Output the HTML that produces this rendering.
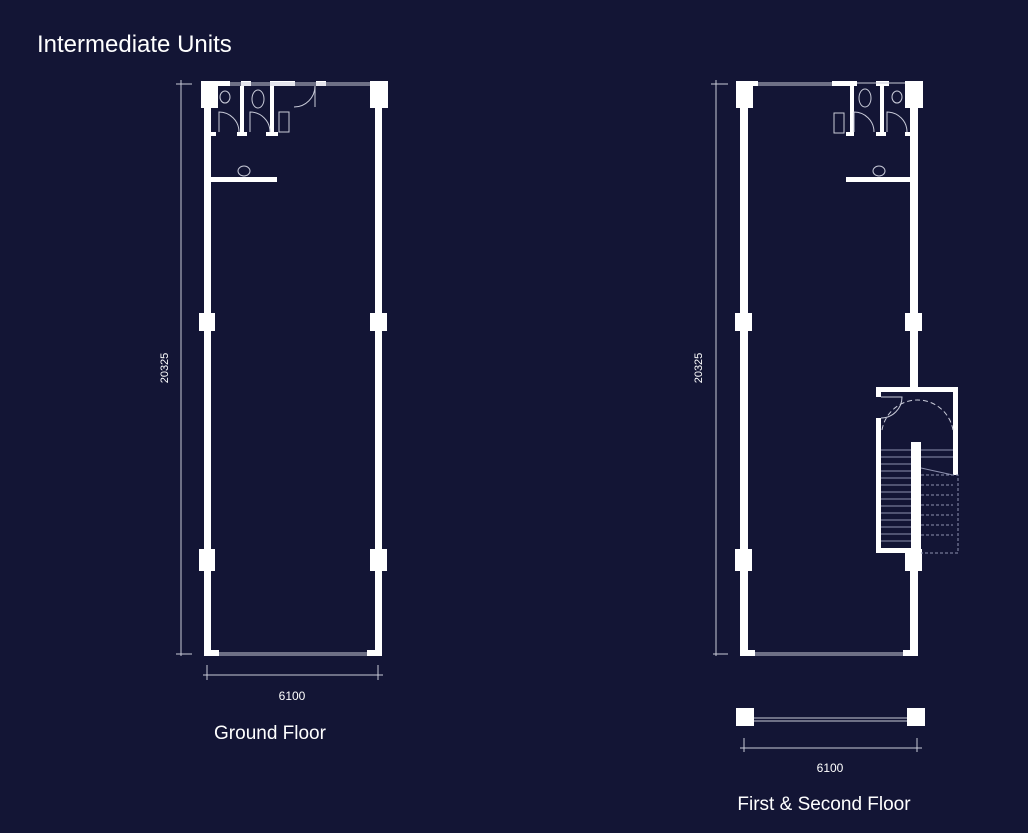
<!DOCTYPE html>
<html><head><meta charset="utf-8"><style>
html,body{margin:0;padding:0;background:#131535;}
svg{display:block}
text{font-family:"Liberation Sans",sans-serif;fill:#fff}
</style></head><body>
<svg width="1028" height="833" viewBox="0 0 1028 833" xmlns="http://www.w3.org/2000/svg">
<rect width="1028" height="833" fill="#131535"/>
<text x="37" y="52" font-size="24">Intermediate Units</text>

<!-- LEFT PLAN -->
<g fill="#fff">
<rect x="204" y="81" width="7" height="575"/>
<rect x="375" y="81" width="7" height="575"/>
<rect x="201" y="81" width="17" height="27"/>
<rect x="370" y="81" width="18" height="27"/>
<rect x="218" y="81" width="12" height="5"/>
<rect x="241" y="81" width="10" height="5"/>
<rect x="270" y="81" width="25" height="5"/>
<rect x="316" y="81" width="10" height="5"/>
<rect x="199" y="313" width="16" height="18"/>
<rect x="370" y="313" width="17" height="18"/>
<rect x="199" y="549" width="16" height="22"/>
<rect x="370" y="549" width="17" height="22"/>
<rect x="204" y="650" width="15" height="6"/>
<rect x="367" y="650" width="15" height="6"/>
<rect x="211" y="177" width="66" height="5"/>
<rect x="240" y="86" width="4" height="50"/>
<rect x="270" y="86" width="4" height="50"/>
<rect x="211" y="132" width="5" height="4"/>
<rect x="237" y="132" width="10" height="4"/>
<rect x="266" y="132" width="12" height="4"/>
</g>
<g stroke="#c8cad8" fill="none" stroke-width="1">
<line x1="230" y1="83" x2="370" y2="83"/><line x1="230" y1="85" x2="370" y2="85"/>
<line x1="219" y1="653" x2="367" y2="653"/><line x1="219" y1="655" x2="367" y2="655"/>
<ellipse cx="225" cy="97" rx="5" ry="6"/><ellipse cx="258" cy="99" rx="6" ry="9"/>
<path d="M219 132 V112 A20 20 0 0 1 239 132"/><path d="M250 132 V112 A20 20 0 0 1 270 132"/>
<path d="M315 107 V86 A21 21 0 0 1 294 107"/>
<rect x="279" y="112" width="10" height="20"/>
<ellipse cx="244" cy="171" rx="6" ry="5"/>
<line x1="181" y1="80" x2="181" y2="656"/>
<line x1="176" y1="84" x2="192" y2="84"/><line x1="176" y1="654" x2="192" y2="654"/>
<line x1="203" y1="675" x2="383" y2="675"/>
<line x1="207" y1="665" x2="207" y2="680"/><line x1="378" y1="665" x2="378" y2="680"/>
</g>
<text x="168" y="368" font-size="11" text-anchor="middle" transform="rotate(-90 168 368)">20325</text>
<text x="292" y="700" font-size="12" text-anchor="middle">6100</text>
<text x="270" y="739" font-size="19" text-anchor="middle">Ground Floor</text>

<!-- RIGHT PLAN -->
<g fill="#fff">
<rect x="740" y="81" width="8" height="575"/>
<rect x="910" y="81" width="8" height="306"/>
<rect x="910" y="553" width="8" height="103"/>
<rect x="736" y="81" width="17" height="27"/>
<rect x="905" y="81" width="18" height="27"/>
<rect x="753" y="81" width="5" height="5"/>
<rect x="832" y="81" width="25" height="5"/>
<rect x="876" y="81" width="13" height="5"/>
<rect x="850" y="86" width="4" height="50"/>
<rect x="880" y="86" width="4" height="50"/>
<rect x="846" y="132" width="8" height="4"/>
<rect x="876" y="132" width="10" height="4"/>
<rect x="905" y="132" width="5" height="4"/>
<rect x="735" y="313" width="17" height="18"/>
<rect x="905" y="313" width="17" height="18"/>
<rect x="735" y="549" width="17" height="22"/>
<rect x="905" y="549" width="17" height="22"/>
<rect x="740" y="650" width="15" height="6"/>
<rect x="903" y="650" width="15" height="6"/>
<rect x="846" y="177" width="66" height="5"/>
<rect x="876" y="387" width="82" height="5"/>
<rect x="953" y="387" width="5" height="88"/>
<rect x="876" y="387" width="5" height="10"/>
<rect x="876" y="418" width="5" height="135"/>
<rect x="876" y="548" width="36" height="5"/>
<rect x="911" y="442" width="10" height="111"/>
<rect x="736" y="708" width="18" height="18"/>
<rect x="907" y="708" width="18" height="18"/>
</g>
<g stroke="#c8cad8" fill="none" stroke-width="1">
<line x1="758" y1="83" x2="832" y2="83"/><line x1="758" y1="85" x2="832" y2="85"/>
<line x1="857" y1="83" x2="905" y2="83"/>
<line x1="755" y1="653" x2="903" y2="653"/><line x1="755" y1="655" x2="903" y2="655"/>
<line x1="754" y1="718" x2="907" y2="718"/><line x1="754" y1="721" x2="907" y2="721"/>
<ellipse cx="865" cy="98" rx="6" ry="9"/><ellipse cx="897" cy="97" rx="5" ry="6"/>
<path d="M854 132 V112 A20 20 0 0 1 874 132"/><path d="M887 132 V112 A20 20 0 0 1 907 132"/>
<rect x="834" y="113" width="10" height="20"/>
<ellipse cx="879" cy="171" rx="6" ry="5"/>
<path d="M881 397 H902 A21 21 0 0 1 881 418"/>
<path d="M882 430 A36 36 0 0 1 953 430" stroke-dasharray="5 3"/>
<g stroke="#8e91b0">
<line x1="881" y1="450" x2="911" y2="450"/><line x1="881" y1="457" x2="911" y2="457"/>
<line x1="881" y1="464" x2="911" y2="464"/><line x1="881" y1="471" x2="911" y2="471"/>
<line x1="881" y1="478" x2="911" y2="478"/><line x1="881" y1="485" x2="911" y2="485"/>
<line x1="881" y1="492" x2="911" y2="492"/><line x1="881" y1="499" x2="911" y2="499"/>
<line x1="881" y1="506" x2="911" y2="506"/><line x1="881" y1="513" x2="911" y2="513"/>
<line x1="881" y1="520" x2="911" y2="520"/><line x1="881" y1="527" x2="911" y2="527"/>
<line x1="881" y1="534" x2="911" y2="534"/><line x1="881" y1="541" x2="911" y2="541"/>
<line x1="921" y1="450" x2="953" y2="450"/><line x1="921" y1="457" x2="953" y2="457"/>
<line x1="921" y1="468" x2="953" y2="475"/>
</g>
<g stroke="#8e91b0" stroke-dasharray="3 2">
<path d="M921 475 H958 V553 H921"/>
<line x1="921" y1="485" x2="953" y2="485"/><line x1="921" y1="495" x2="953" y2="495"/>
<line x1="921" y1="505" x2="953" y2="505"/><line x1="921" y1="515" x2="953" y2="515"/>
<line x1="921" y1="525" x2="953" y2="525"/><line x1="921" y1="535" x2="953" y2="535"/>
</g>
<line x1="716" y1="80" x2="716" y2="656"/>
<line x1="711" y1="84" x2="728" y2="84"/><line x1="713" y1="654" x2="728" y2="654"/>
<line x1="740" y1="748" x2="922" y2="748"/>
<line x1="744" y1="738" x2="744" y2="752"/><line x1="917" y1="738" x2="917" y2="752"/>
</g>
<text x="702" y="368" font-size="11" text-anchor="middle" transform="rotate(-90 702 368)">20325</text>
<text x="830" y="772" font-size="12" text-anchor="middle">6100</text>
<text x="824" y="810" font-size="19" text-anchor="middle">First &amp; Second Floor</text>
</svg>
</body></html>
